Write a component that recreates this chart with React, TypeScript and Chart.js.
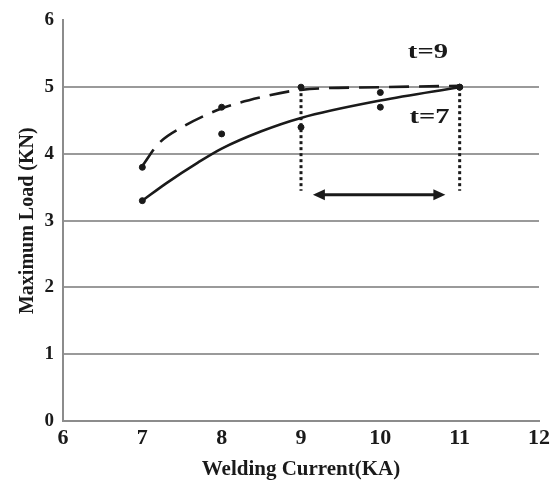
import React, { useEffect, useRef } from "react";
import { Chart, registerables } from "chart.js";

Chart.register(...registerables);

// Measured points
const currents = [7, 8, 9, 10, 11];
const loadT7 = [3.3, 4.3, 4.4, 4.7, 5.0];
const loadT9 = [3.8, 4.7, 5.0, 4.92, 5.0];

// Trend curves
const trendT7X = [7, 7.3, 7.7, 8, 8.5, 9, 10, 11];
const trendT7Y = [3.3, 3.56, 3.87, 4.08, 4.34, 4.54, 4.8, 5.0];
const trendT9X = [7, 7.2, 7.5, 8, 8.5, 9, 10, 11];
const trendT9Y = [3.82, 4.15, 4.4, 4.68, 4.85, 4.96, 5.0, 5.02];

// Range markers
const rangeX = [9, 11];
const rangeTop = 5.0;
const rangeBottom = 3.45;
const arrowX = [9.15, 10.82];
const arrowY = 3.39;

// Labels
const seriesLabels = ["t=9", "t=7"];
const labelX = [10.6, 10.62];
const labelY = [5.52, 4.55];

const xTicks = [6, 7, 8, 9, 10, 11, 12];
const yTicks = [0, 1, 2, 3, 4, 5, 6];

const FONT = "'Liberation Serif', 'Times New Roman', serif";
const INK = "#1a1a1a";

const pts = (xs: number[], ys: number[]) => xs.map((x, i) => ({ x, y: ys[i] }));

const annotationPlugin = {
  id: "annot",
  afterDatasetsDraw(chart: any) {
    const { ctx, scales } = chart;
    const xs = scales.x;
    const ys = scales.y;
    ctx.save();
    // double arrow
    const x1 = xs.getPixelForValue(arrowX[0]);
    const x2 = xs.getPixelForValue(arrowX[1]);
    const y = ys.getPixelForValue(arrowY);
    const head = 12;
    const hw = 5.5;
    ctx.strokeStyle = INK;
    ctx.fillStyle = INK;
    ctx.lineWidth = 3;
    ctx.beginPath();
    ctx.moveTo(x1 + head - 2, y);
    ctx.lineTo(x2 - head + 2, y);
    ctx.stroke();
    ctx.beginPath();
    ctx.moveTo(x1, y);
    ctx.lineTo(x1 + head, y - hw);
    ctx.lineTo(x1 + head, y + hw);
    ctx.closePath();
    ctx.fill();
    ctx.beginPath();
    ctx.moveTo(x2, y);
    ctx.lineTo(x2 - head, y - hw);
    ctx.lineTo(x2 - head, y + hw);
    ctx.closePath();
    ctx.fill();
    // series labels
    ctx.font = `bold 22px ${FONT}`;
    ctx.textAlign = "center";
    ctx.textBaseline = "middle";
    seriesLabels.forEach((t, i) => {
      const px = xs.getPixelForValue(labelX[i]);
      const py = ys.getPixelForValue(labelY[i]);
      ctx.save();
      ctx.translate(px, py);
      ctx.scale(1.3, 1);
      ctx.fillText(t, 0, 0);
      ctx.restore();
    });
    ctx.restore();
  },
};

export default function App() {
  const ref = useRef<HTMLCanvasElement>(null);
  useEffect(() => {
    if (!ref.current) return;
    const chart = new Chart(ref.current, {
      type: "scatter",
      data: {
        datasets: [
          {
            data: pts(trendT7X, trendT7Y),
            showLine: true,
            borderColor: INK,
            borderWidth: 2.6,
            pointRadius: 0,
            cubicInterpolationMode: "monotone",
          },
          {
            data: pts(trendT9X, trendT9Y),
            showLine: true,
            borderColor: INK,
            borderWidth: 2.6,
            borderDash: [20, 10],
            pointRadius: 0,
            cubicInterpolationMode: "monotone",
          },
          ...rangeX.map((rx) => ({
            data: [
              { x: rx, y: rangeTop },
              { x: rx, y: rangeBottom },
            ],
            showLine: true,
            borderColor: INK,
            borderWidth: 3,
            borderDash: [3, 3],
            pointRadius: 0,
          })),
          {
            data: pts(currents, loadT7),
            backgroundColor: INK,
            borderColor: INK,
            pointRadius: 3,
          },
          {
            data: pts(currents, loadT9),
            backgroundColor: INK,
            borderColor: INK,
            pointRadius: 3,
          },
        ],
      } as any,
      options: {
        animation: false,
        responsive: true,
        maintainAspectRatio: false,
        layout: { padding: { top: 16, right: 13, left: 0, bottom: 0 } },
        plugins: { legend: { display: false }, tooltip: { enabled: false } },
        scales: {
          x: {
            type: "linear",
            min: 6,
            max: 12,
            afterBuildTicks: (s: any) => {
              s.ticks = xTicks.map((v) => ({ value: v }));
            },
            afterFit: (s: any) => {
              s.height = 63;
            },
            grid: { display: false, drawTicks: false },
            border: { display: true, color: "#8c8c8c", width: 2 },
            ticks: {
              padding: 4,
              color: INK,
              font: { family: FONT, size: 22, weight: "bold" },
            },
            title: {
              display: true,
              text: "Welding Current(KA)",
              color: INK,
              padding: { top: 0, bottom: 2 },
              font: { family: FONT, size: 21, weight: "bold" },
            },
          },
          y: {
            type: "linear",
            min: 0,
            max: 6,
            afterBuildTicks: (s: any) => {
              s.ticks = yTicks.map((v) => ({ value: v }));
            },
            afterFit: (s: any) => {
              s.width = 63;
            },
            grid: {
              color: (c: any) => (c.tick && (c.tick.value === 0 || c.tick.value === 6) ? "rgba(0,0,0,0)" : "#9a9a9a"),
              lineWidth: 2,
              drawTicks: false,
            },
            border: { display: true, color: "#8c8c8c", width: 2 },
            ticks: {
              padding: 9,
              color: INK,
              font: { family: FONT, size: 19, weight: "bold" },
            },
            title: {
              display: true,
              text: "Maximum Load (KN)",
              color: INK,
              padding: { top: 16, bottom: 0 },
              font: { family: FONT, size: 20, weight: "bold" },
            },
          },
        },
      } as any,
      plugins: [annotationPlugin],
    });
    return () => chart.destroy();
  }, []);
  return (
    <div style={{ position: "absolute", left: 0, top: 0, width: 554, height: 484, background: "#fff" }}>
      <canvas ref={ref} />
    </div>
  );
}
